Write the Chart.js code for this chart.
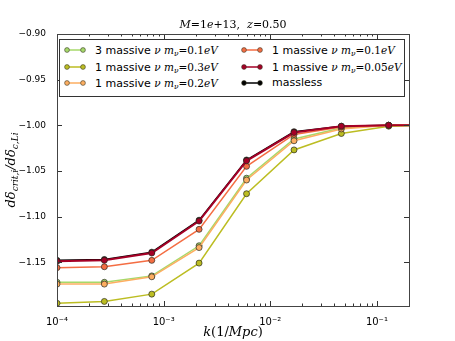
<!DOCTYPE html>
<html>
<head>
<meta charset="utf-8">
<script src="https://cdn.jsdelivr.net/npm/chart.js@4.4.0/dist/chart.umd.min.js"></script>
<style>
html, body { margin: 0; padding: 0; background: #fff; }
#wrap { position: relative; width: 455px; height: 341px; }
#legend { position: absolute; left: 59px; top: 39px; width: 346px; height: 58px; box-sizing: border-box;
  border: 1px solid #333; background: #fff; font: 11px "DejaVu Sans", sans-serif; color: #000; }
.item { position: absolute; height: 14px; line-height: 14px; white-space: nowrap; }
.item svg { position: absolute; left: 0; top: 3px; }
.item .lbl { position: absolute; left: 31px; top: 0; }
.mt { font-family: "DejaVu Serif", serif; font-size: 10.5px; }
.mt i { font-style: italic; }
.mt sub { font-size: 7.5px; vertical-align: -2px; line-height: 0; }
</style>
</head>
<body>
<div id="wrap">
  <canvas id="chart" width="455" height="341"></canvas>
  <div id="legend"></div>
</div>
<script>
// k values (1/Mpc)
const kValues = [1e-4, 2.78e-4, 7.74e-4, 2.15e-3, 5.99e-3, 1.67e-2, 4.64e-2, 1.29e-1, 3.59e-1];

// d delta_crit / d delta_c,L per model
const nu3_01 = [-1.172, -1.172, -1.165, -1.132, -1.058, -1.015, -1.003, -1.000, -1.000];
const nu1_03 = [-1.195, -1.193, -1.185, -1.151, -1.075, -1.027, -1.009, -1.001, -1.000];
const nu1_02 = [-1.174, -1.174, -1.166, -1.134, -1.060, -1.017, -1.004, -1.000, -1.000];
const nu1_01 = [-1.156, -1.155, -1.148, -1.114, -1.045, -1.010, -1.002, -1.000, -1.000];
const nu1_005 = [-1.149, -1.148, -1.140, -1.105, -1.039, -1.008, -1.001, -1.000, -1.000];
const massless = [-1.148, -1.147, -1.139, -1.104, -1.038, -1.007, -1.001, -1.000, -1.000];

const seriesNames = ['3 massive', '1 massive', '1 massive', '1 massive', '1 massive', 'massless'];
const seriesMasses = ['0.1', '0.3', '0.2', '0.1', '0.05', null];
const seriesData = [nu3_01, nu1_03, nu1_02, nu1_01, nu1_005, massless];
const seriesColors = ['#a6d96a', '#bcbd22', '#fdae61', '#f46d43', '#a50026', '#000000'];

const xMajorTicks = [1e-4, 1e-3, 1e-2, 1e-1];
const yTicks = [-1.15, -1.10, -1.05, -1.00, -0.95, -0.90];

const SUP = { '-': '⁻', '0': '⁰', '1': '¹', '2': '²', '3': '³', '4': '⁴' };

function drawRich(ctx, parts, x, y) {
    // parts: [text, font, dy]; centred on x
    let total = 0;
    parts.forEach(p => { ctx.font = p[1]; total += ctx.measureText(p[0]).width; });
    let cx = x - total / 2;
    parts.forEach(p => {
        ctx.font = p[1];
        ctx.fillText(p[0], cx, y + (p[2] || 0));
        cx += ctx.measureText(p[0]).width;
    });
}

const decor = {
    id: 'decor',
    afterDatasetsDraw(chart) {
        const { ctx, chartArea: a, scales: { x, y } } = chart;
        ctx.save();
        ctx.strokeStyle = '#333';
        ctx.lineWidth = 1;
        const seg = (x1, y1, x2, y2) => { ctx.beginPath(); ctx.moveTo(x1, y1); ctx.lineTo(x2, y2); ctx.stroke(); };

        // log ticks on bottom and top, pointing in
        for (let e = -4; e <= 0; e++) {
            for (let m = 1; m <= 9; m++) {
                const v = m * Math.pow(10, e);
                if (v < x.min || v > x.max) continue;
                const px = Math.round(x.getPixelForValue(v)) + 0.5;
                const len = m === 1 ? 5 : 2.5;
                seg(px, a.bottom, px, a.bottom - len);
                seg(px, a.top, px, a.top + len);
            }
        }
        yTicks.forEach(v => {
            const py = Math.round(y.getPixelForValue(v)) + 0.5;
            seg(a.left, py, a.left + 5, py);
            seg(a.right, py, a.right - 5, py);
        });

        ctx.strokeStyle = '#444';
        ctx.strokeRect(Math.round(a.left) + 0.5, Math.round(a.top) + 0.5,
            Math.round(a.right - a.left), Math.round(a.bottom - a.top));
        ctx.restore();
    },
    afterDraw(chart) {
        const { ctx, chartArea: a } = chart;
        const it = 'italic 11px "DejaVu Serif"';
        const rm = '11px "DejaVu Serif"';
        const cx = (a.left + a.right) / 2;
        ctx.save();
        ctx.fillStyle = '#000';
        ctx.textBaseline = 'alphabetic';

        // title
        drawRich(ctx, [['M', it], ['=', rm], ['1', rm], ['e', it], ['+13,  ', rm], ['z', it], ['=0.50', rm]], cx, a.top - 6);

        // x title
        const it2 = 'italic 13px "DejaVu Serif"';
        const rm2 = '13px "DejaVu Serif"';
        drawRich(ctx, [['k', it2], ['(1/', rm2], ['Mpc', it2], [')', rm2]], cx, 336);

        // y title (rotated)
        const it3 = 'italic 13px "DejaVu Serif"';
        const sub = 'italic 9px "DejaVu Serif"';
        ctx.translate(15, (a.top + a.bottom) / 2);
        ctx.rotate(-Math.PI / 2);
        drawRich(ctx, [['dδ', it3], ['crit,i', sub, 3], ['/dδ', it3], ['c,Li', sub, 3]], 0, 0);
        ctx.restore();
    }
};

const datasets = seriesData.map((d, i) => ({
    label: seriesNames[i],
    data: kValues.map((k, j) => ({ x: k, y: d[j] })),
    borderColor: seriesColors[i],
    backgroundColor: seriesColors[i],
    borderWidth: i === 4 ? 2 : 1.5,
    pointRadius: 3,
    pointBorderColor: '#2a2a20',
    pointBorderWidth: 0.7,
    pointBackgroundColor: seriesColors[i],
    tension: 0,
    clip: 0,
    order: i === 5 ? 10 : 6 - i
}));

new Chart(document.getElementById('chart'), {
    type: 'line',
    data: { datasets },
    options: {
        responsive: false,
        animation: false,
        layout: { padding: { top: 34, right: 46, left: 0, bottom: 0 } },
        plugins: { legend: { display: false }, tooltip: { enabled: false } },
        scales: {
            x: {
                type: 'logarithmic',
                min: 1e-4,
                max: 0.2,
                afterBuildTicks: s => { s.ticks = xMajorTicks.map(v => ({ value: v })); },
                afterFit: s => { s.height = 35; },
                grid: { display: false },
                border: { display: false },
                ticks: {
                    color: '#000',
                    font: { family: 'DejaVu Sans', size: 10 },
                    padding: 2,
                    maxRotation: 0,
                    autoSkip: false,
                    callback: v => '10' + String(Math.round(Math.log10(v))).split('').map(c => SUP[c]).join('')
                }
            },
            y: {
                min: -1.198,
                max: -0.9,
                afterBuildTicks: s => { s.ticks = yTicks.map(v => ({ value: v })); },
                afterFit: s => { s.width = 57; },
                grid: { display: false },
                border: { display: false },
                ticks: {
                    color: '#000',
                    font: { family: 'DejaVu Sans', size: 9 },
                    padding: 3,
                    callback: v => '−' + Math.abs(v).toFixed(2)
                }
            }
        }
    },
    plugins: [decor]
});

// legend: two columns, filled column by column
const legend = document.getElementById('legend');
seriesNames.forEach((name, i) => {
    const col = Math.floor(i / 3), row = i % 3;
    const c = seriesColors[i];
    const div = document.createElement('div');
    div.className = 'item';
    div.style.left = (col === 0 ? 4 : 181) + 'px';
    div.style.top = (3 + row * 16.5) + 'px';
    const math = seriesMasses[i]
        ? ` <span class="mt"><i>ν m</i><sub><i>ν</i></sub>=${seriesMasses[i]}<i>eV</i></span>`
        : '';
    div.innerHTML = `<svg width="22" height="8"><line x1="3" y1="4" x2="19" y2="4" stroke="${c}" stroke-width="1.5"/>
      <circle cx="3" cy="4" r="2.4" fill="${c}" stroke="#3a3a2a" stroke-width="0.6"/>
      <circle cx="19" cy="4" r="2.4" fill="${c}" stroke="#3a3a2a" stroke-width="0.6"/></svg>
      <span class="lbl">${name}${math}</span>`;
    legend.appendChild(div);
});
</script>
</body>
</html>
